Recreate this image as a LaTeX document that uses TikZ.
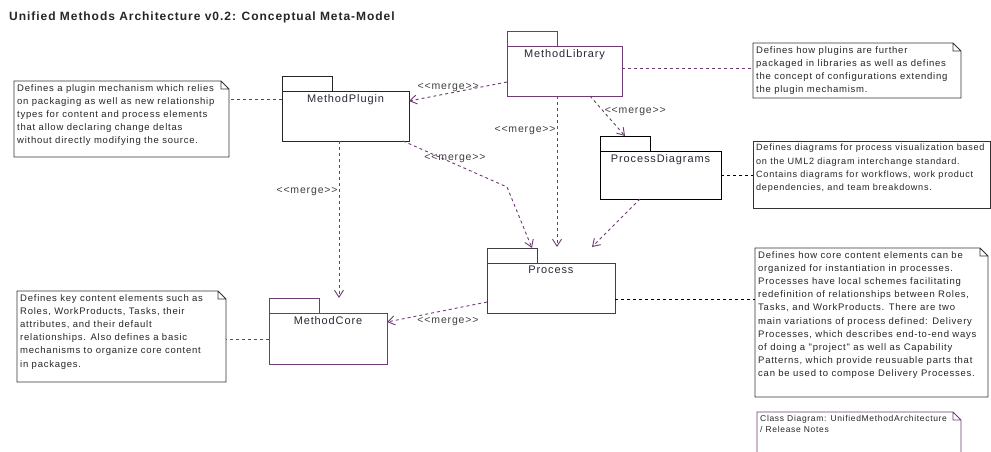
\documentclass[tikz,border=0pt]{standalone}
\usepackage{fontspec}
\newfontfamily\umlfont{Liberation Sans}[LetterSpace=8]
\usetikzlibrary{arrows.meta,positioning}
\definecolor{umlpurple}{RGB}{112,58,118}
\definecolor{umltext}{RGB}{40,40,55}

\begin{document}
\begin{tikzpicture}[x=1pt,y=-1pt,
  pkg/.style={draw=#1,line width=1pt,anchor=north west,inner sep=0pt,outer sep=0pt},
  pkgtab/.style={draw=#1,line width=1pt,anchor=south west,inner sep=0pt,outer sep=0pt,minimum width=50pt,minimum height=15pt},
  pkgname/.style={font=\umlfont\fontsize{11}{13}\selectfont,text=umltext,anchor=north,inner sep=0pt,yshift=-3pt},
  notebox/.style={anchor=north west,inner sep=0pt,outer sep=0pt},
  notefold/.style={draw=#1,line width=0.8pt},
  notetext/.style={anchor=north west,align=left,inner sep=3pt,font=\umlfont\fontsize{9.5}{13.2}\selectfont,text=black!85},
  notelink/.style={draw=#1,line width=0.9pt,dash pattern=on 3pt off 3pt},
  merge/.style={umlpurple,line width=0.9pt,dash pattern=on 3pt off 3pt,-{Straight Barb[length=7pt,width=9pt]}},
  mlabel/.style={font=\umlfont\fontsize{10.5}{12}\selectfont,text=black!75,inner sep=1pt}
]
\useasboundingbox (0,0) rectangle (991,451);
\fill[white] (0,0) rectangle (991,451);

\node[anchor=west,inner sep=0pt,font=\umlfont\bfseries\fontsize{12}{14}\selectfont,text=black!85] (title) at (9,17) {Unified Methods Architecture v0.2: Conceptual Meta-Model};

%%%%%%%%%%   packages
\foreach \nm/\t/\x/\y/\w/\h/\c in {
  plugin/MethodPlugin/282/91/127/50/black!85,
  library/MethodLibrary/507/46/115/50/umlpurple,
  diagrams/ProcessDiagrams/600/151/121/48/black,
  process/Process/487/263/128/50/black!75,
  core/MethodCore/269/313/118/51/umlpurple}
{
  \node[pkg=\c,minimum width=\w pt,minimum height=\h pt] (\nm) at (\x,\y) {};
  \node[pkgtab=\c] (\nm-tab) at (\nm.north west) {};
  \node[pkgname] (\nm-name) at (\nm.north) {\t};
}

%%%%%%%%%%   notes
\foreach \nm/\x/\y/\w/\h in {
  plugnote/14/81/215/76,
  libnote/753/43/208/55,
  diagnote/753/141/237/67,
  procnote/755/248/233/149,
  corenote/17/291/209/91,
  relnote/757/412/204/45}
  \node[notebox,minimum width=\w pt,minimum height=\h pt] (\nm) at (\x,\y) {};

\foreach \nm/\c in {plugnote/black!80,libnote/black!80,procnote/black!80,corenote/black!80,relnote/umlpurple}
  \draw[notefold=\c] (\nm.north west) -- ([xshift=-8pt]\nm.north east) -- ([yshift=-8pt]\nm.north east)
    -- (\nm.south east) -- (\nm.south west) -- cycle
    ([xshift=-8pt]\nm.north east) -- ([xshift=-8pt,yshift=-8pt]\nm.north east) -- ([yshift=-8pt]\nm.north east);
\draw[notefold=black!80] (diagnote.north west) rectangle (diagnote.south east);

\node[notetext] (plugtext) at (plugnote.north west) {Defines a plugin mechanism which relies\\on packaging as well as new relationship\\types for content and process elements\\that allow declaring change deltas\\without directly modifying the source.};
\node[notetext] (libtext) at (libnote.north west) {Defines how plugins are further\\packaged in libraries as well as defines\\the concept of configurations extending\\the plugin mechamism.};
\node[notetext,font=\umlfont\fontsize{9.1}{13.2}\selectfont] (diagtext) at (diagnote.north west) {Defines diagrams for process visualization based\\on the UML2 diagram interchange standard.\\Contains diagrams for workflows, work product\\dependencies, and team breakdowns.};
\node[notetext] (proctext) at (procnote.north west) {Defines how core content elements can be\\organized for instantiation in processes.\\Processes have local schemes facilitating\\redefinition of relationships between Roles,\\Tasks, and WorkProducts. There are two\\main variations of process defined: Delivery\\Processes, which describes end-to-end ways\\of doing a "project" as well as Capability\\Patterns, which provide reusuable parts that\\can be used to compose Delivery Processes.};
\node[notetext] (coretext) at (corenote.north west) {Defines key content elements such as\\Roles, WorkProducts, Tasks, their\\attributes, and their default\\relationships. Also defines a basic\\mechanisms to organize core content\\in packages.};
\node[notetext,font=\umlfont\fontsize{8.5}{11}\selectfont] (reltext) at (relnote.north west) {Class Diagram: UnifiedMethodArchitecture\\/ Release Notes};

%%%%%%%%%%   note links
\coordinate (plin) at ([yshift=-8pt]plugin.north west);
\coordinate (libout) at ([yshift=-22pt]library.north east);
\coordinate (diagout) at ([yshift=-24pt]diagrams.north east);
\coordinate (procout) at ([yshift=-36pt]process.north east);
\coordinate (corein) at ([yshift=-26pt]core.north west);
\draw[notelink=black!70] (plin) -- (plin -| plugnote.east);
\draw[notelink=umlpurple] (libout) -- (libout -| libnote.west);
\draw[notelink=black] (diagout) -- (diagout -| diagnote.west);
\draw[notelink=black] (procout) -- (procout -| procnote.west);
\draw[notelink=umlpurple] (corein) -- (corein -| corenote.east);

%%%%%%%%%%   merges
\coordinate (bend) at (507,187);
\draw[merge] ([yshift=14pt]library.south west) -- node[mlabel,pos=0.6,above] {<<merge>>} ([yshift=-10pt]plugin.north east);
\draw[merge] ([xshift=50pt]library.south west) -- node[mlabel,pos=0.23,left] {<<merge>>} ([xshift=70pt,yshift=16pt]process.north west);
\draw[merge] ([xshift=83pt]library.south west) -- node[mlabel,pos=0.38,right] {<<merge>>} ([xshift=25pt]diagrams-tab.north west);
\draw[merge] ([xshift=-6pt]plugin.south east) -- node[mlabel,pos=0.5,above] {<<merge>>} (bend) -- ([xshift=45pt]process-tab.north west);
\draw[merge] ([xshift=57pt]plugin.south west) -- node[mlabel,pos=0.32,left] {<<merge>>} ([xshift=70pt,yshift=15pt]core.north west);
\draw[merge] ([xshift=40pt]diagrams.south west) -- ([xshift=105pt,yshift=16pt]process.north west);
\draw[merge] ([yshift=11pt]process.south west) -- node[mlabel,pos=0.39,below=6pt] {<<merge>>} ([yshift=-9pt]core.north east);

\end{tikzpicture}
\end{document}
